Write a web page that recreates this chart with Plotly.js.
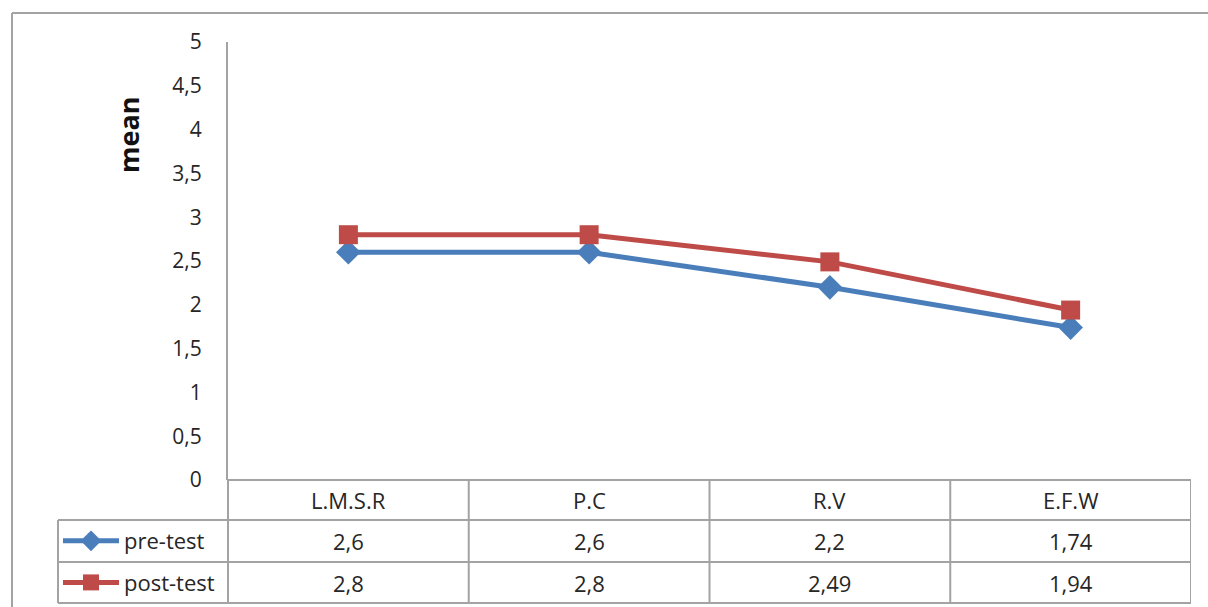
<!DOCTYPE html>
<html><head><meta charset="utf-8">
<script src="https://cdn.plot.ly/plotly-3.0.1.min.js"></script>
<style>html,body{margin:0;padding:0;background:#fff}#chart{width:1208px;height:607px}</style>
</head><body><div id="chart"></div>
<script>
// ---- data ----
const categories = ["L.M.S.R", "P.C", "R.V", "E.F.W"];
const preTest = [2.6, 2.6, 2.2, 1.74];
const postTest = [2.8, 2.8, 2.49, 1.94];
const seriesNames = ["pre-test", "post-test"];
const yTickVals = [0, 0.5, 1, 1.5, 2, 2.5, 3, 3.5, 4, 4.5, 5];
const yTickText = ["0", "0,5", "1", "1,5", "2", "2,5", "3", "3,5", "4", "4,5", "5"];
const yTitle = "mean";

// ---- layout geometry (pixels) ----
const W = 1208, H = 607;
const L = 228, R = 1191, T = 42, B = 480;
const rowLines = [480, 520, 562, 603];
const legendLeft = 58;
const pw = R - L, ph = B - T;
const fx = p => (p - L) / pw;
const fy = p => (B - p) / ph;
const gridCol = '#a3a3a3';
const textCol = '#262626';
const FONT = 'Open Sans, sans-serif';
const fmt = v => String(v).replace('.', ',');

const blue = '#4a7ebb', red = '#be4b48';

const traces = [
  {x: categories, y: preTest, name: seriesNames[0], type: 'scatter', mode: 'lines+markers',
   line: {color: blue, width: 5}, marker: {symbol: 'diamond', size: 19, color: blue}, legendgroup: 'a'},
  {x: categories, y: postTest, name: seriesNames[1], type: 'scatter', mode: 'lines+markers',
   line: {color: red, width: 5}, marker: {symbol: 'square', size: 19, color: red}, legendgroup: 'b'}
];

const shapes = [];
const line = (x0, y0, x1, y1) => shapes.push({type: 'line', xref: 'paper', yref: 'paper',
  x0: x0, y0: y0, x1: x1, y1: y1, line: {color: gridCol, width: 2}});
// outer chart border (top, left)
line(fx(12), fy(13), fx(W), fy(13));
line(fx(12), fy(13), fx(12), fy(H));
// table horizontals
line(fx(L), fy(rowLines[0]), fx(R), fy(rowLines[0]));
for (let k = 1; k < rowLines.length; k++) line(fx(legendLeft), fy(rowLines[k]), fx(R), fy(rowLines[k]));
// table verticals
line(fx(legendLeft), fy(rowLines[1]), fx(legendLeft), fy(rowLines[3]));
line(fx(L), fy(B), fx(L), fy(rowLines[3]));
for (let i = 0; i <= categories.length; i++) {
  shapes.push({type: 'line', xref: 'x', yref: 'paper', x0: i - 0.5, x1: i - 0.5, y0: fy(rowLines[0]), y1: fy(rowLines[3]),
    line: {color: gridCol, width: 2}});
}

const annotations = [];
const cellFont = {family: FONT, size: 22, color: textCol};
const rowMid = k => fy((rowLines[k] + rowLines[k + 1]) / 2);
categories.forEach((c, i) => {
  annotations.push({x: i, xref: 'x', y: rowMid(0), yref: 'paper', text: c, showarrow: false, font: cellFont, yanchor: 'middle'});
  annotations.push({x: i, xref: 'x', y: rowMid(1), yref: 'paper', text: fmt(preTest[i]), showarrow: false, font: cellFont, yanchor: 'middle'});
  annotations.push({x: i, xref: 'x', y: rowMid(2), yref: 'paper', text: fmt(postTest[i]), showarrow: false, font: cellFont, yanchor: 'middle'});
});
annotations.push({x: fx(128), xref: 'paper', y: fy(135), yref: 'paper', text: '<b>' + yTitle + '</b>', textangle: -90,
  showarrow: false, font: {family: FONT, size: 27, color: '#111'}, xanchor: 'center', yanchor: 'middle'});

const layout = {
  width: W, height: H,
  margin: {l: L, r: W - R, t: T, b: H - B, pad: 0, autoexpand: false},
  paper_bgcolor: '#fff', plot_bgcolor: '#fff',
  separators: ',.',
  font: {family: FONT, size: 22, color: textCol},
  showlegend: true,
  legend: {x: fx(legendLeft), xanchor: 'left', y: fy(rowLines[1]), yanchor: 'top',
    font: {family: FONT, size: 22, color: textCol}, bgcolor: 'rgba(0,0,0,0)', borderwidth: 0,
    traceorder: 'grouped', tracegroupgap: 10, itemwidth: 56},
  xaxis: {type: 'category', range: [-0.5, categories.length - 0.5], showticklabels: false, showline: false,
    showgrid: false, zeroline: false, ticks: '', fixedrange: true},
  yaxis: {range: [0, 5], tickvals: yTickVals, ticktext: yTickText, showgrid: false, zeroline: false,
    showline: true, linecolor: gridCol, linewidth: 2, ticks: '', ticklabelstandoff: 20,
    tickfont: {family: FONT, size: 21, color: textCol}, fixedrange: true},
  shapes: shapes,
  annotations: annotations
};

Plotly.newPlot('chart', traces, layout, {displayModeBar: false, staticPlot: true});
</script>
</body></html>
